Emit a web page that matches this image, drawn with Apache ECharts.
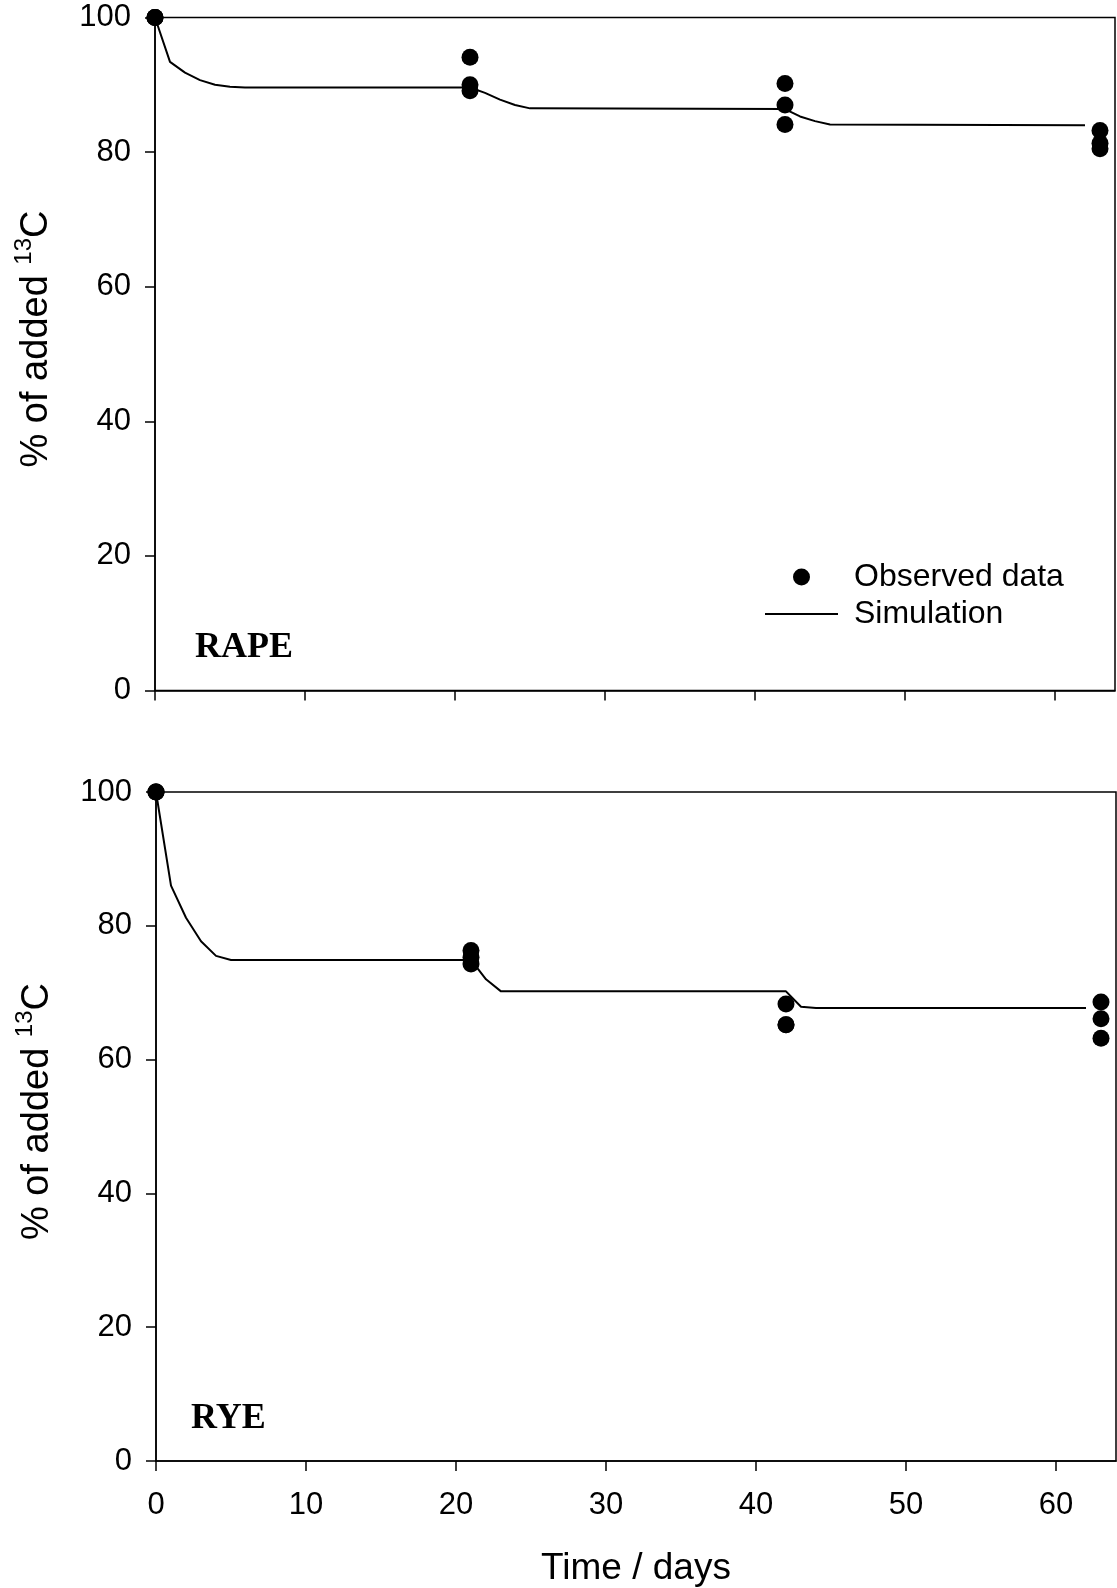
<!DOCTYPE html>
<html>
<head>
<meta charset="utf-8">
<script src="https://cdn.jsdelivr.net/npm/echarts@6/dist/echarts.min.js"></script>
<style>
html,body{margin:0;padding:0;background:#fff;}
#c{width:1117px;height:1588px;}
</style>
</head>
<body>
<div id="c"></div>
<script>
// ---- data ----
const xTicks = [0, 10, 20, 30, 40, 50, 60];
const yTicks = [0, 20, 40, 60, 80, 100];

const obsDays = [0, 0, 0, 21, 21, 21, 42, 42, 42, 63, 63, 63];
const rapeObs = [100, 100, 100, 94.1, 90.0, 89.1, 90.2, 87.0, 84.1, 83.2, 81.3, 80.5];
const ryeObs  = [100, 100, 100, 76.3, 75.3, 74.3, 68.3, 65.2, 65.2, 68.6, 66.1, 63.2];

const rapeSimDays = [0, 1, 2, 3, 4, 5, 6, 21, 22, 23, 24, 25, 42, 43, 44, 45, 62];
const rapeSim     = [100, 93.4, 91.8, 90.7, 90.0, 89.7, 89.6, 89.6, 88.8, 87.8, 87.0, 86.5, 86.4, 85.3, 84.6, 84.1, 84.0];

const ryeSimDays = [0, 1, 2, 3, 4, 5, 21, 22, 23, 42, 43, 44, 62];
const ryeSim     = [100, 86.0, 81.2, 77.7, 75.5, 74.9, 74.9, 72.0, 70.2, 70.2, 67.9, 67.7, 67.7];

const panelLabels = ['RAPE', 'RYE'];
const xTitle = 'Time / days';

// ---- chart ----
const FONT = '"Liberation Sans", Arial, sans-serif';
const zip = (a, b) => a.map((v, i) => [v, b[i]]);

function xAxis(gridIndex, showLabels) {
  return {
    type: 'value', gridIndex, min: 0, max: 64, interval: 10,
    axisLine: { show: true, onZero: false, lineStyle: { color: '#000', width: 1.5 } },
    axisTick: { show: true, inside: false, length: 10, customValues: xTicks, lineStyle: { color: '#000', width: 1.5 } },
    axisLabel: { show: showLabels, customValues: xTicks, color: '#000', fontSize: 31, fontFamily: FONT, margin: 29 },
    splitLine: { show: false },
    name: showLabels ? xTitle : '', nameLocation: 'middle', nameGap: 89,
    nameTextStyle: { color: '#000', fontSize: 37, fontFamily: FONT }
  };
}
function yAxis(gridIndex) {
  return {
    type: 'value', gridIndex, min: 0, max: 100, interval: 20,
    axisLine: { show: true, onZero: false, lineStyle: { color: '#000', width: 1.5 } },
    axisTick: { show: true, inside: false, length: 10, customValues: yTicks, lineStyle: { color: '#000', width: 1.5 } },
    axisLabel: { customValues: yTicks, color: '#000', fontSize: 31, fontFamily: FONT, margin: 24 },
    splitLine: { show: false },
    name: '% of added {sup|13}C', nameLocation: 'middle', nameGap: 93,
    nameTextStyle: {
      color: '#000', fontSize: 38, fontFamily: FONT, padding: [0, 0, 0, 30],
      rich: { sup: { fontSize: 24, fontFamily: FONT, color: '#000', verticalAlign: 'top', lineHeight: 50 } }
    }
  };
}

const chart = echarts.init(document.getElementById('c'), null, { renderer: 'canvas' });
chart.setOption({
  backgroundColor: '#fff',
  animation: false,
  grid: [
    { left: 155, top: 17.5, width: 960, height: 673, show: true, borderColor: '#000', borderWidth: 1.5, backgroundColor: 'transparent' },
    { left: 156, top: 792, width: 960, height: 671, show: true, borderColor: '#000', borderWidth: 1.5, backgroundColor: 'transparent' }
  ],
  xAxis: [xAxis(0, false), xAxis(1, true)],
  yAxis: [yAxis(0), yAxis(1)],
  legend: {
    left: 760, top: 556, orient: 'vertical',
    itemWidth: 73, itemHeight: 17, itemGap: 5,
    textStyle: { color: '#000', fontSize: 32, fontFamily: FONT, padding: [0, 0, 0, 11] },
    data: [
      { name: 'Observed data', icon: 'circle', itemStyle: { color: '#000', opacity: 1 } },
      { name: 'Simulation', icon: 'path://M0,0 L73,0 L73,2 L0,2 Z', itemStyle: { color: '#000', opacity: 1 } }
    ],
    selectedMode: false
  },
  series: [
    { name: 'Simulation', type: 'line', xAxisIndex: 0, yAxisIndex: 0, data: zip(rapeSimDays, rapeSim),
      showSymbol: false, symbol: 'none', lineStyle: { color: '#000', width: 2 }, itemStyle: { color: '#000' }, z: 2 },
    { name: 'Observed data', type: 'scatter', xAxisIndex: 0, yAxisIndex: 0, data: zip(obsDays, rapeObs),
      symbol: 'circle', symbolSize: 17, itemStyle: { color: '#000', opacity: 1 }, z: 3 },
    { name: 'Simulation', type: 'line', xAxisIndex: 1, yAxisIndex: 1, data: zip(ryeSimDays, ryeSim),
      showSymbol: false, symbol: 'none', lineStyle: { color: '#000', width: 2 }, itemStyle: { color: '#000' }, z: 2 },
    { name: 'Observed data', type: 'scatter', xAxisIndex: 1, yAxisIndex: 1, data: zip(obsDays, ryeObs),
      symbol: 'circle', symbolSize: 17, itemStyle: { color: '#000', opacity: 1 }, z: 3 }
  ],
  graphic: [
    { type: 'text', left: 195, top: 630, style: { text: panelLabels[0], fill: '#000', font: 'bold 36px "Liberation Serif", "Times New Roman", serif' } },
    { type: 'text', left: 191, top: 1401, style: { text: panelLabels[1], fill: '#000', font: 'bold 36px "Liberation Serif", "Times New Roman", serif' } }
  ]
});
</script>
</body>
</html>
